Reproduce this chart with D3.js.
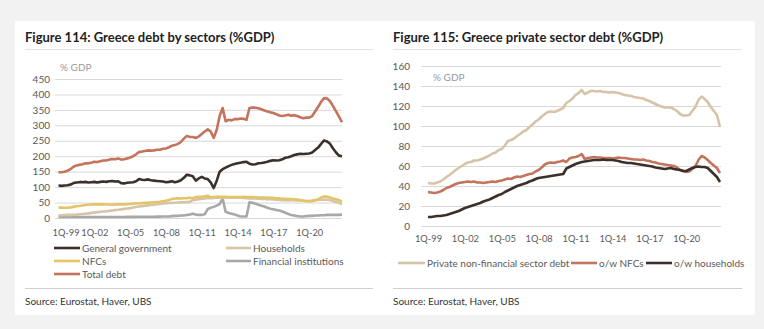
<!DOCTYPE html>
<html lang="en">
<head>
<meta charset="UTF-8">
<title>Greece debt</title>
<script src="https://d3js.org/d3.v7.min.js"></script>
<style>
    body { margin: 0; background: #f2f2f2; font-family: Lato, "Open Sans", sans-serif; }
    svg { display: block; }
    .tick text { fill: #595959; font-size: 10px; font-family: Lato, sans-serif; }
    .xaxis .tick text { font-size: 9.3px; }
    .grid line { stroke: #d9d9d9; stroke-width: 1; }
    .title { font-size: 13px; font-weight: bold; fill: #222; }
    .unit { font-size: 10px; fill: #9a9a9a; }
    .legend text { font-size: 10px; fill: #595959; }
    .source { font-size: 10px; fill: #333; }
    .series { fill: none; stroke-width: 2.6; stroke-linejoin: round; }
</style>
</head>
<body>
<svg id="chart" width="764" height="329"></svg>
<script>
// quarterly categories 1Q-99 .. 4Q-22
const quarters = d3.range(96).map(i => (i % 4 + 1) + "Q-" + String((1999 + Math.floor(i / 4)) % 100).padStart(2, "0"));
const tickLabels = ["1Q-99", "1Q-02", "1Q-05", "1Q-08", "1Q-11", "1Q-14", "1Q-17", "1Q-20"];

// Figure 114 (left)
const generalGov = [
    105, 104, 105, 106, 108, 113, 115, 116, 116, 117, 115, 116,
    117, 115, 117, 118, 117, 119, 120, 118, 119, 113, 112, 114,
    115, 116, 119, 126, 124, 123, 125, 122, 121, 120, 119, 118,
    116, 117, 119, 116, 118, 122, 130, 140, 138, 135, 121, 128,
    133, 128, 126, 115, 97, 120, 150, 158, 163, 168, 172, 175,
    177, 179, 181, 182, 176, 173, 174, 177, 178, 180, 182, 185,
    187, 186, 187, 190, 195, 197, 200, 204, 206, 208, 207, 208,
    209, 212, 220, 228, 240, 251, 248, 240, 225, 212, 202, 200
];
const financialInst = [
    3, 3, 3, 3, 3, 3, 3, 3, 3, 3, 3, 3,
    3, 3, 3, 3, 3, 3, 3, 3, 3, 3, 3, 3.5,
    3.5, 3.5, 4, 4, 4, 4, 4, 4, 4, 4.5, 4.5, 5,
    5, 5, 6, 7, 7, 8, 8, 10, 11, 14, 11, 10,
    10, 12, 29, 33, 36, 40, 45, 63, 20, 16, 14, 11,
    8, 5, 5, 5, 51, 49, 46, 43, 40, 37, 33, 30,
    28, 26, 24, 21, 17, 13, 10, 8, 6, 5, 5, 6,
    7, 7, 8, 8, 9, 9, 10, 10, 10, 10, 10, 11
];
const totalDebt = [
    148, 148, 150, 153, 158, 166, 170, 172, 174, 177, 177, 179,
    182, 181, 184, 186, 186, 189, 191, 190, 193, 189, 190, 193,
    196, 200, 206, 214, 215, 217, 219, 218, 219, 221, 221, 224,
    225, 229, 234, 236, 240, 246, 257, 266, 262, 262, 259, 264,
    272, 280, 287, 280, 259, 285, 330, 356, 313, 318, 316, 320,
    320, 322, 321, 318, 356, 358, 357, 355, 352, 348, 345, 342,
    340, 336, 332, 330, 332, 334, 331, 333, 330, 326, 323, 325,
    325, 330, 345, 360, 376, 388, 387, 378, 362, 345, 328, 310
];

// Figure 115 (right); households and NFCs also shown in Figure 114
const households = [
    9, 9, 9.5, 10, 10, 10.5, 11, 12, 13, 14, 15, 16.5,
    18, 19, 20, 21, 22, 23, 24.5, 25.5, 26.5, 28, 29.5, 31,
    32, 34, 35.5, 37, 38.5, 40, 41, 42, 43, 44.5, 45.5, 47,
    48, 48.5, 49, 49.5, 50, 50.5, 51, 51.5, 52, 57.5, 59, 60.5,
    62, 63, 64, 64.5, 65, 65.5, 66, 66, 66, 66.5, 66, 66,
    66, 65.5, 65, 64, 63.5, 63, 63, 62.5, 62, 61.5, 61, 60.5,
    60, 59.5, 58.5, 58, 57.5, 57, 57.5, 58, 57, 56.5, 56, 55,
    55, 56.5, 58, 59, 59.5, 59, 59, 58, 55, 52, 49, 44
];
const nfcs = [
    34, 33.5, 33, 33.5, 34.5, 36, 38, 39, 40.5, 42, 43, 43.5,
    44, 44.5, 44, 44.5, 43.5, 43.5, 43, 43.5, 44, 44.5, 44, 45,
    45.5, 46.5, 47.5, 47, 48.5, 49.5, 49, 50, 51, 52, 52.5, 54.5,
    56, 58.5, 61.5, 63, 63.5, 63, 64, 64.5, 65.5, 64, 67.5, 68.5,
    69, 70, 72, 67, 68, 68.5, 69, 68.5, 68.5, 68, 68, 68,
    67.5, 68, 68.5, 68, 68, 67.5, 67, 66.5, 66.5, 66, 66.5, 65.5,
    65, 64, 63.5, 62.5, 62, 61.5, 61, 60.5, 60, 58.5, 56, 55,
    54, 54.5, 57, 60, 66, 70, 68.5, 66, 63, 60.5, 58, 53
];
const privateNonFin = [
    43, 42.5, 42.5, 43.5, 44.5, 46.5, 49, 51, 53.5, 56, 58, 60,
    62, 63.5, 64, 65.5, 65.5, 66.5, 67.5, 69, 70.5, 72.5, 73.5, 76,
    77, 80.5, 85, 86, 87.5, 90, 92, 94.5, 96, 99, 101.5, 104.5,
    106.5, 109.5, 112, 114, 114.5, 114, 115, 116.5, 118, 123, 125, 127.5,
    131, 133, 136, 132, 133.5, 135, 135, 134.5, 135, 134, 134, 133.5,
    134, 133.5, 133, 132, 131, 130.5, 130, 129, 128.5, 128, 127.5, 126,
    125, 123.5, 122, 120.5, 119.5, 118.5, 118.5, 118.5, 117, 115, 112, 110.5,
    110.5, 111, 115, 119, 126, 129.5, 127, 124, 119, 115, 111, 99
];

const leftTicks = d3.range(0, 451, 50);
const rightTicks = d3.range(0, 161, 20);

const colors = {
    gov: "#3b302a",
    households: "#d5c5a8",
    nfcs: "#e3c567",
    fin: "#a8a8a8",
    total: "#c4735c"
};

const svg = d3.select("#chart");

// white card
svg.append("rect").attr("x", 15).attr("y", 21).attr("width", 740).attr("height", 294).attr("fill", "#fff");

function panelFrame(x0, x1, title) {
    svg.append("text").attr("class", "title").attr("x", x0).attr("y", 42).text(title);
    svg.append("line").attr("x1", x0).attr("x2", x1).attr("y1", 49.5).attr("y2", 49.5)
        .attr("stroke", "#e3e3e3");
    svg.append("line").attr("x1", x0).attr("x2", x1).attr("y1", 288.5).attr("y2", 288.5)
        .attr("stroke", "#cfcfcf");
    svg.append("text").attr("class", "source").attr("x", x0).attr("y", 305)
        .text("Source: Eurostat, Haver, UBS");
}

function drawChart(cfg) {
    const x = d3.scaleLinear().domain([0, quarters.length - 1]).range(cfg.xRange);
    const y = d3.scaleLinear().domain(cfg.yDomain).range(cfg.yRange);

    const yAxis = d3.axisLeft(y).tickValues(cfg.yTicks)
        .tickSize(-(cfg.gridRight - cfg.gridLeft)).tickPadding(cfg.gridLeft - cfg.labelRight);
    const gy = svg.append("g").attr("class", "grid")
        .attr("transform", `translate(${cfg.gridLeft},0)`).call(yAxis);
    gy.select(".domain").remove();

    const tickIdx = cfg.tickLabels.map(l => quarters.indexOf(l));
    const xAxis = d3.axisBottom(x).tickValues(tickIdx).tickSize(0)
        .tickFormat(i => quarters[i]);
    const gx = svg.append("g").attr("class", "xaxis")
        .attr("transform", `translate(0,${cfg.xLabelY})`).call(xAxis);
    gx.select(".domain").remove();
    if (cfg.clampFirst) {
        gx.selectAll(".tick").filter((d, i) => i === 0).select("text")
            .attr("text-anchor", "start").attr("x", cfg.gridLeft - 3 - x(0));
    }

    svg.append("text").attr("class", "unit").attr("x", cfg.unitPos[0]).attr("y", cfg.unitPos[1]).text("% GDP");

    const line = d3.line().x((d, i) => x(i)).y(d => y(d));
    cfg.series.forEach(s => {
        svg.append("path").attr("class", "series").attr("d", line(s.values)).attr("stroke", s.color);
    });

    const lg = svg.append("g").attr("class", "legend");
    cfg.legend.forEach(it => {
        lg.append("line").attr("x1", it.x).attr("x2", it.x + it.w).attr("y1", it.y).attr("y2", it.y)
            .attr("stroke", it.color).attr("stroke-width", 2.6);
        lg.append("text").attr("x", it.x + it.w + 2).attr("y", it.y + 3.5).text(it.label);
    });
}

panelFrame(25, 373, "Figure 114: Greece debt by sectors (%GDP)");
panelFrame(393, 742, "Figure 115: Greece private sector debt (%GDP)");

drawChart({
    xRange: [58.5, 342],
    yDomain: [0, 450], yRange: [218, 79], yTicks: leftTicks,
    gridLeft: 55, gridRight: 342, labelRight: 50,
    xLabelY: 226, tickLabels: tickLabels, clampFirst: true,
    unitPos: [60, 71],
    series: [
        { values: financialInst, color: colors.fin },
        { values: households, color: colors.households },
        { values: nfcs, color: colors.nfcs },
        { values: generalGov, color: colors.gov },
        { values: totalDebt, color: colors.total }
    ],
    legend: [
        { x: 54, y: 248, w: 26, color: colors.gov, label: "General government" },
        { x: 226, y: 248, w: 25, color: colors.households, label: "Households" },
        { x: 54, y: 261, w: 26, color: colors.nfcs, label: "NFCs" },
        { x: 226, y: 261, w: 25, color: colors.fin, label: "Financial institutions" },
        { x: 54, y: 274, w: 26, color: colors.total, label: "Total debt" }
    ]
});

drawChart({
    xRange: [428, 720],
    yDomain: [0, 160], yRange: [226, 66], yTicks: rightTicks,
    gridLeft: 421, gridRight: 721, labelRight: 410,
    xLabelY: 232, tickLabels: tickLabels, clampFirst: false,
    unitPos: [433, 81],
    series: [
        { values: privateNonFin, color: colors.households },
        { values: nfcs, color: colors.total },
        { values: households, color: colors.gov }
    ],
    legend: [
        { x: 398, y: 263, w: 27, color: colors.households, label: "Private non-financial sector debt" },
        { x: 571, y: 263, w: 26, color: colors.total, label: "o/w NFCs" },
        { x: 646, y: 263, w: 26, color: colors.gov, label: "o/w households" }
    ]
});
</script>
</body>
</html>
